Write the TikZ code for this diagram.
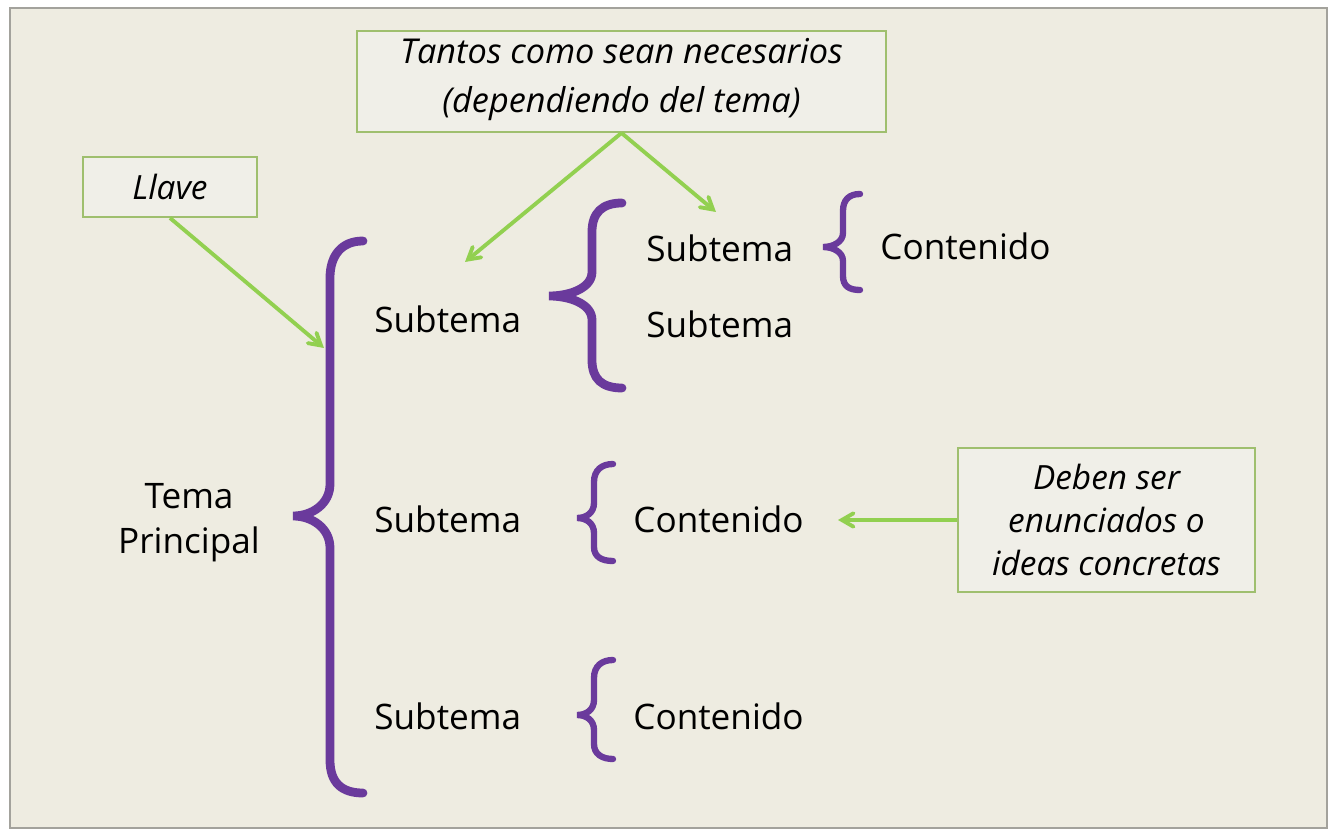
\documentclass[tikz,border=0pt]{standalone}
\usepackage{fontspec}
\setmainfont{Open Sans}
\usepackage{xcolor}
\usepackage{tikz}
\usetikzlibrary{arrows}

\definecolor{fondo}{HTML}{EEECE1}
\definecolor{fondocaja}{HTML}{F0EFE8}
\definecolor{marco}{HTML}{A3A29C}
\definecolor{morado}{HTML}{6A3A9C}
\definecolor{verde}{HTML}{92D050}
\definecolor{bordecaja}{HTML}{9FBF6E}

\begin{document}
\begin{tikzpicture}[x=0.02cm, y=-0.02cm,
        texto/.style={anchor=base west, inner sep=0pt, font=\fontsize{20}{26}\selectfont},
        nota/.style={draw=bordecaja, line width=1.1pt, fill=fondocaja, align=center,
            inner sep=0pt, font=\itshape\fontsize{19}{24.5}\selectfont},
        llave/.style={draw=morado, line width=5pt, line cap=round},
        llavechica/.style={draw=morado, line width=3.6pt, line cap=round},
        flecha/.style={draw=verde, line width=2.2pt, ->, >=angle 60}]
        \useasboundingbox (0, 0) rectangle (1330, 831);
        \fill[white] (0, 0) rectangle (1330, 831);
        \filldraw[fill = fondo, draw = marco, line width = 1.2pt] (10, 8) rectangle (1327, 828);

        \node[nota, minimum width = 10.58cm, minimum height = 2.02cm, text depth = 0.25cm,
            font=\itshape\fontsize{19.5}{28}\selectfont]
            (tantos) at (621.5, 81.5) {Tantos como sean necesarios\\(dependiendo del tema)};
        \node[nota, minimum width = 3.48cm, minimum height = 1.2cm] (nllave) at (170, 187) {Llave};
        \node[nota, minimum width = 5.94cm, minimum height = 2.88cm]
            (deben) at (1106.5, 520) {Deben ser\\enunciados o\\ideas concretas};

        \node[align = center, inner sep = 0pt, font = \fontsize{20}{25.6}\selectfont]
            (tema) at (189, 523) {Tema\\Principal};
        \node[texto] (sub1) at (374, 333) {Subtema};
        \node[texto] (sub1a) at (646, 262) {Subtema};
        \node[texto] (sub1b) at (646, 338) {Subtema};
        \node[texto] (con1a) at (880, 260) {Contenido};
        \node[texto] (sub2) at (374, 532) {Subtema};
        \node[texto] (con2) at (633, 532) {Contenido};
        \node[texto] (sub3) at (374, 729) {Subtema};
        \node[texto] (con3) at (633, 729) {Contenido};

        \draw[llave] (363, 241) .. controls (342, 241) and (330, 255) .. (330, 278)
            -- (330, 484) .. controls (330, 504) and (312, 516) .. (293, 516)
            .. controls (312, 516) and (330, 528) .. (330, 548)
            -- (330, 760) .. controls (330, 783) and (342, 793) .. (363, 793);
        \draw[llave] (622, 203) .. controls (602, 203) and (592, 213) .. (592, 232)
            -- (592, 272) .. controls (592, 288) and (570, 296) .. (549, 296)
            .. controls (570, 296) and (592, 304) .. (592, 320)
            -- (592, 360) .. controls (592, 379) and (602, 388) .. (622, 388);
        \draw[llavechica] (860, 194) .. controls (849, 194) and (843, 200) .. (843, 211)
            -- (843, 233) .. controls (843, 242) and (833, 247) .. (823, 247)
            .. controls (833, 247) and (843, 252) .. (843, 261)
            -- (843, 276) .. controls (843, 286) and (849, 290) .. (860, 290);
        \draw[llavechica] (613, 464) .. controls (602, 464) and (594, 470) .. (594, 482)
            -- (594, 503) .. controls (594, 513) and (586, 518) .. (577, 518)
            .. controls (586, 518) and (594, 523) .. (594, 533)
            -- (594, 547) .. controls (594, 557) and (602, 561) .. (613, 561);
        \draw[llavechica] (613, 660) .. controls (602, 660) and (594, 666) .. (594, 678)
            -- (594, 700) .. controls (594, 710) and (586, 715) .. (577, 715)
            .. controls (586, 715) and (594, 720) .. (594, 730)
            -- (594, 744) .. controls (594, 754) and (602, 759) .. (613, 759);

        \coordinate (pllave) at (324, 348);
        \coordinate (psub1) at (465, 262);
        \coordinate (psub1a) at (716, 212);
        \coordinate (pcon2) at (838, 520);
        \draw[flecha] (nllave.south) -- (pllave);
        \draw[flecha] (tantos.south) -- (psub1);
        \draw[flecha] (tantos.south) -- (psub1a);
        \draw[flecha] (deben.west) -- (pcon2);
    \end{tikzpicture}
\end{document}
